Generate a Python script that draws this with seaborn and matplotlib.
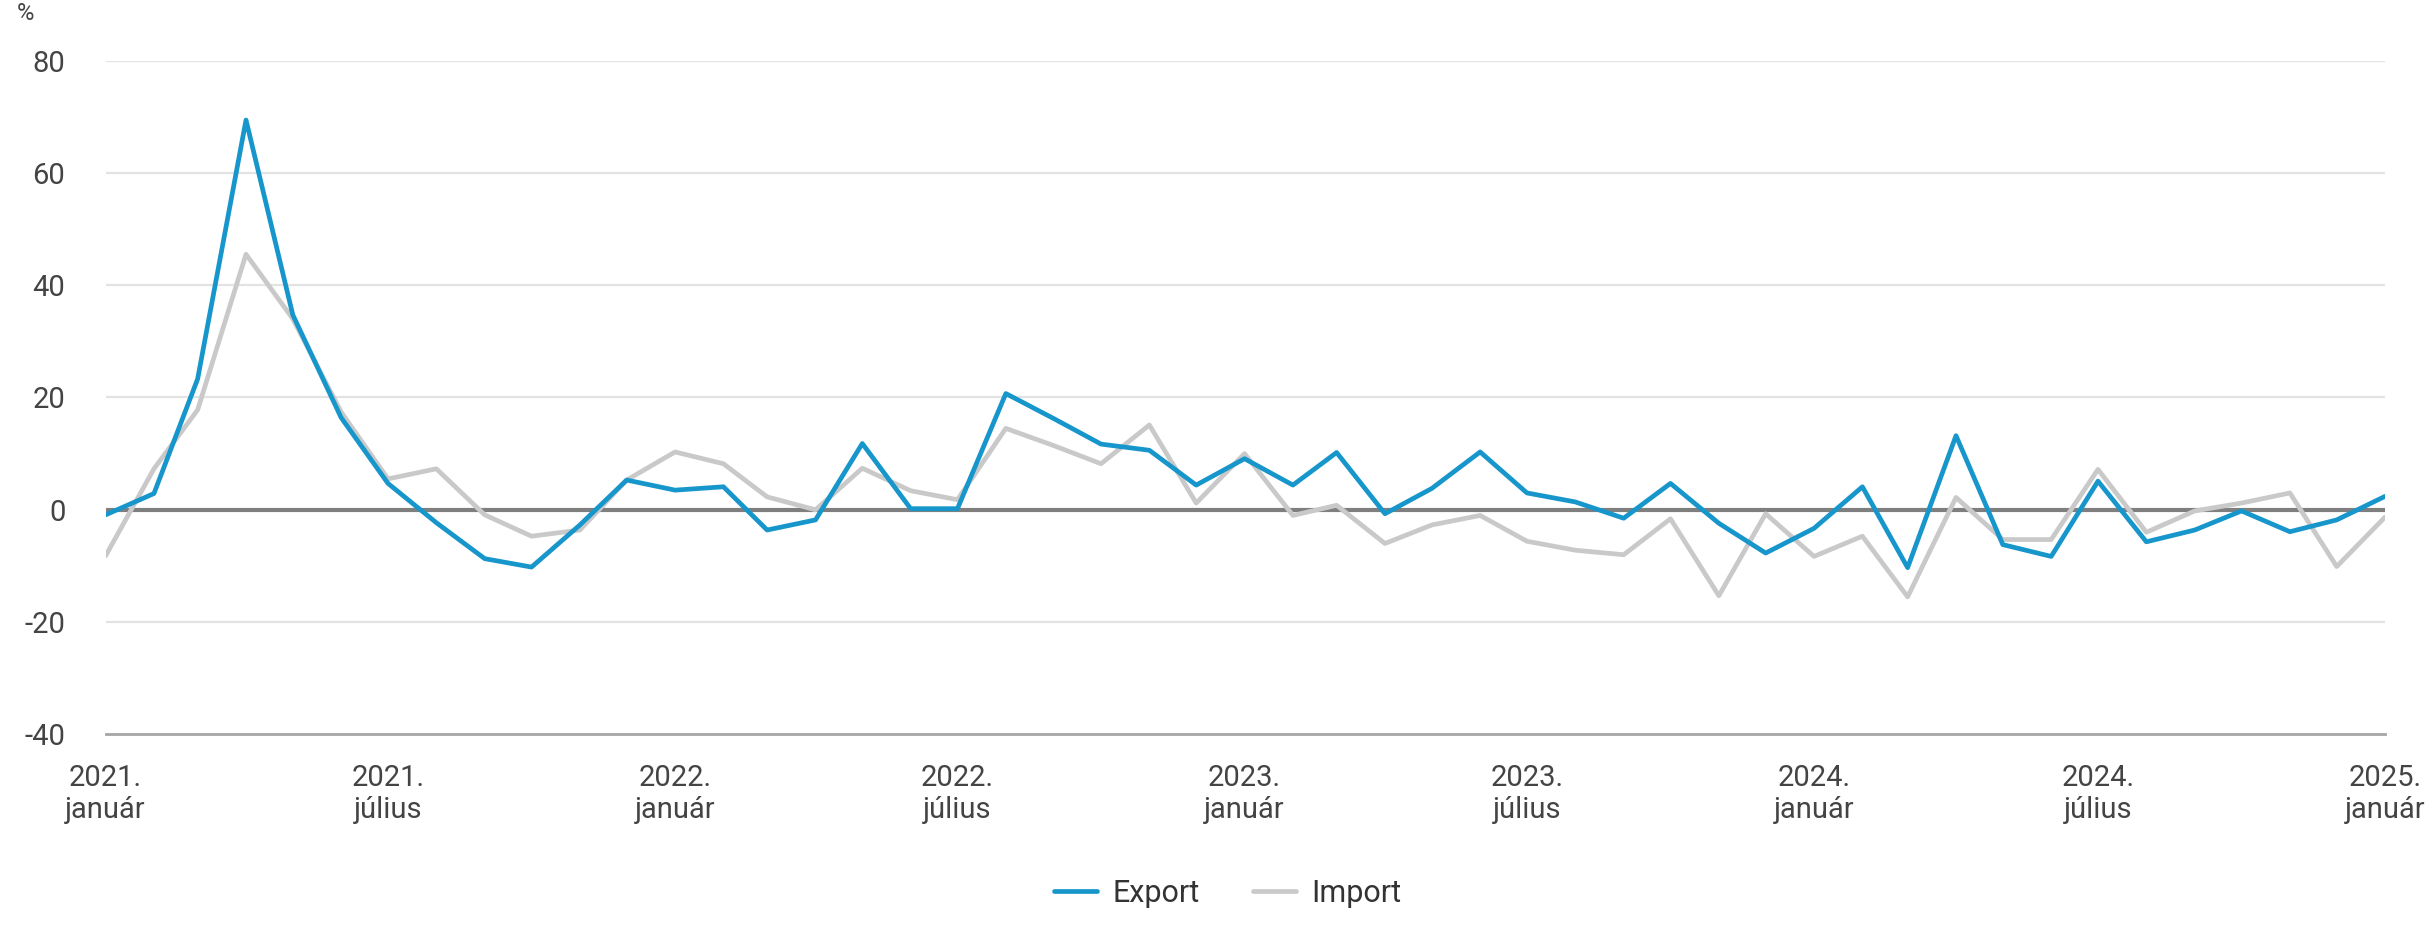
import numpy as np
import pandas as pd
import matplotlib
matplotlib.use("Agg")
import matplotlib.pyplot as plt
import seaborn as sns

# Monthly data, 2021 January - 2025 January (% change)
months = pd.date_range("2021-01-01", periods=49, freq="MS")

export = [
    -0.9, 2.9, 23.3, 69.4, 34.7, 16.4, 4.7, -2.3, -8.7, -10.2, -2.7, 5.3,
    3.5, 4.1, -3.6, -1.8, 11.8, 0.2, 0.2, 20.7, 16.2, 11.7, 10.6, 4.4,
    9.1, 4.4, 10.2, -0.7, 3.8, 10.3, 3.0, 1.4, -1.5, 4.7, -2.4, -7.7,
    -3.3, 4.1, -10.3, 13.2, -6.2, -8.3, 5.1, -5.7, -3.6, -0.2, -3.9, -1.8,
    2.4,
]

import_ = [
    -8.2, 7.3, 17.8, 45.5, 34.0, 17.4, 5.5, 7.3, -0.9, -4.7, -3.6, 5.3,
    10.3, 8.2, 2.3, 0.0, 7.4, 3.4, 1.8, 14.5, 11.4, 8.2, 15.1, 1.2,
    10.0, -1.0, 0.8, -6.0, -2.7, -1.0, -5.6, -7.2, -8.0, -1.6, -15.3, -0.7,
    -8.3, -4.7, -15.5, 2.2, -5.3, -5.3, 7.2, -4.0, -0.2, 1.2, 3.0, -10.1,
    -1.3,
]

tick_dates = pd.date_range("2021-01-01", periods=9, freq="6MS")
tick_labels = [
    "2021.\njanuár", "2021.\njúlius", "2022.\njanuár", "2022.\njúlius",
    "2023.\njanuár", "2023.\njúlius", "2024.\njanuár", "2024.\njúlius",
    "2025.\njanuár",
]
y_ticks = [-40, -20, 0, 20, 40, 60, 80]

df = pd.DataFrame({"Hónap": months, "Export": export, "Import": import_})
long_df = df.melt(id_vars="Hónap", var_name="Irány", value_name="Érték")

sns.set_style("white")
plt.rcParams["font.family"] = ["Roboto", "DejaVu Sans"]

fig = plt.figure(figsize=(24.33, 9.41), dpi=100)
ax = fig.add_axes([0.0434, 0.2195, 0.9369, 0.7162])

# gridlines
for yv in y_ticks:
    if yv not in (0, -40):
        ax.axhline(yv, color="#e3e3e3", lw=1.6, zorder=0)
ax.axhline(0, color="#7f7f7f", lw=3, zorder=1)

sns.lineplot(
    data=long_df,
    x="Hónap",
    y="Érték",
    hue="Irány",
    palette={"Export": "#1796cb", "Import": "#c9c9c9"},
    hue_order=["Export", "Import"],
    linewidth=3.4,
    ax=ax,
    zorder=3,
)

# draw export above import
for line in ax.get_lines():
    if line.get_color() == "#1796cb":
        line.set_zorder(4)

ax.set_xlim(months[0], months[-1])
ax.set_ylim(-40, 80)
ax.set_yticks(y_ticks)
ax.set_yticklabels([str(v) for v in y_ticks])
ax.set_xticks(tick_dates)
ax.set_xticklabels(tick_labels, linespacing=1.2)

for side in ["top", "right", "left"]:
    ax.spines[side].set_visible(False)
ax.spines["bottom"].set_color("#a6a6a6")
ax.spines["bottom"].set_linewidth(2)

ax.tick_params(axis="x", length=15, width=1.6, color="#a6a6a6",
               labelsize=21, labelcolor="#444444", pad=6)
ax.tick_params(axis="y", length=0, labelsize=21, labelcolor="#444444", pad=29)

ax.set_xlabel("")
ax.set_ylabel("")

fig.text(0.007, 0.998, "%", fontsize=17, color="#444444", ha="left", va="top")

ax.legend(
    loc="center",
    bbox_to_anchor=(0.5047, 0.051),
    bbox_transform=fig.transFigure,
    ncol=2,
    frameon=False,
    fontsize=22,
    handlelength=1.4,
    handletextpad=0.5,
    columnspacing=1.76,
    labelcolor="#333333",
)

plt.savefig("out.png", dpi=100)
